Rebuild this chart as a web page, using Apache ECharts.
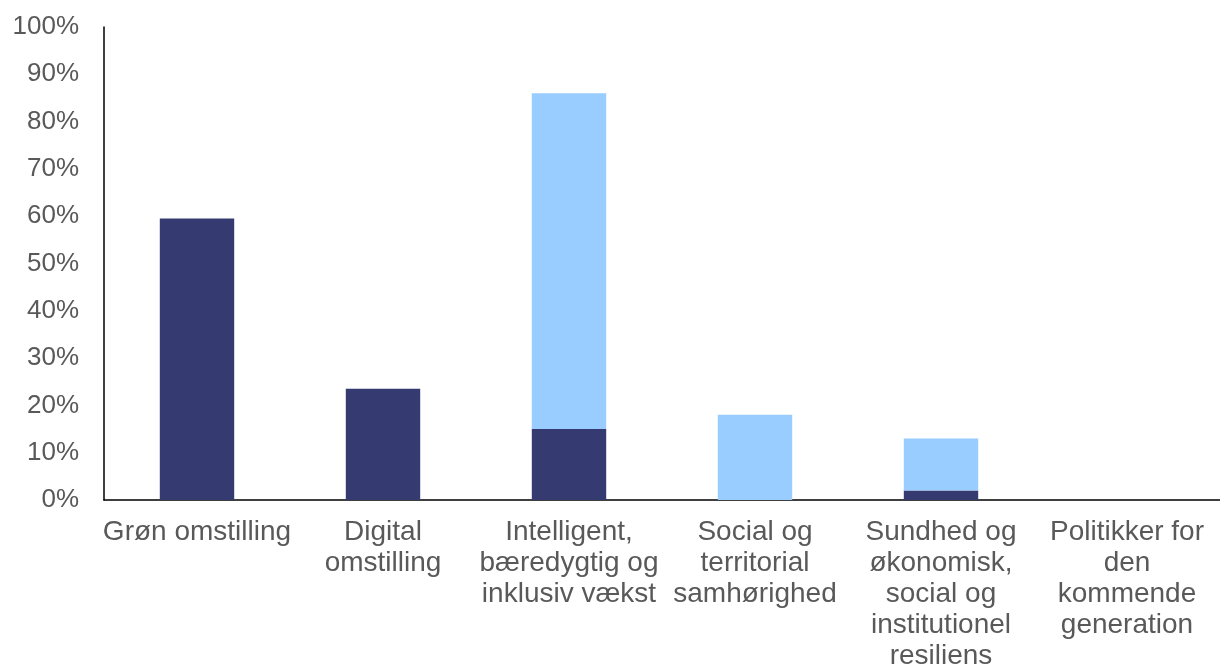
<!DOCTYPE html>
<html><head><meta charset="utf-8">
<script src="https://cdn.jsdelivr.net/npm/echarts@6/dist/echarts.min.js"></script>
<style>html,body{margin:0;padding:0;background:#fff;overflow:hidden}#c{width:1220px;height:664px}</style>
</head><body><div id="c"></div>
<script>
const categories = ["Grøn omstilling","Digital\nomstilling","Intelligent,\nbæredygtig og\ninklusiv vækst","Social og\nterritorial\nsamhørighed","Sundhed og\nøkonomisk,\nsocial og\ninstitutionel\nresiliens","Politikker for\nden\nkommende\ngeneration"];
const darkValues = [59.5, 23.5, 15, 0, 2, 0];
const lightValues = [0, 0, 71, 18, 11, 0];
const yTicks = [0,10,20,30,40,50,60,70,80,90,100];

const chart = echarts.init(document.getElementById('c'));
chart.setOption({
  animation:false,
  grid:{left:104,right:0,top:27,bottom:164,containLabel:false,outerBoundsMode:'none'},
  xAxis:{type:'category',data:categories,
    axisLine:{lineStyle:{color:'#000',width:1.5}},axisTick:{show:false},
    axisLabel:{interval:0,color:'#595959',fontFamily:'Liberation Sans',fontSize:28,lineHeight:31,margin:17}},
  yAxis:{type:'value',min:0,max:100,interval:10,
    axisLine:{show:true,lineStyle:{color:'#000',width:1.5}},axisTick:{show:false},splitLine:{show:false},
    axisLabel:{color:'#595959',fontFamily:'Liberation Sans',fontSize:26,margin:25,formatter:v=>yTicks.includes(v)?v+'%':''}},
  series:[
    {type:'bar',stack:'s',data:darkValues,barCategoryGap:'60%',itemStyle:{color:'#353B70'}},
    {type:'bar',stack:'s',data:lightValues,itemStyle:{color:'#99CCFF'}}
  ]
});
</script></body></html>
